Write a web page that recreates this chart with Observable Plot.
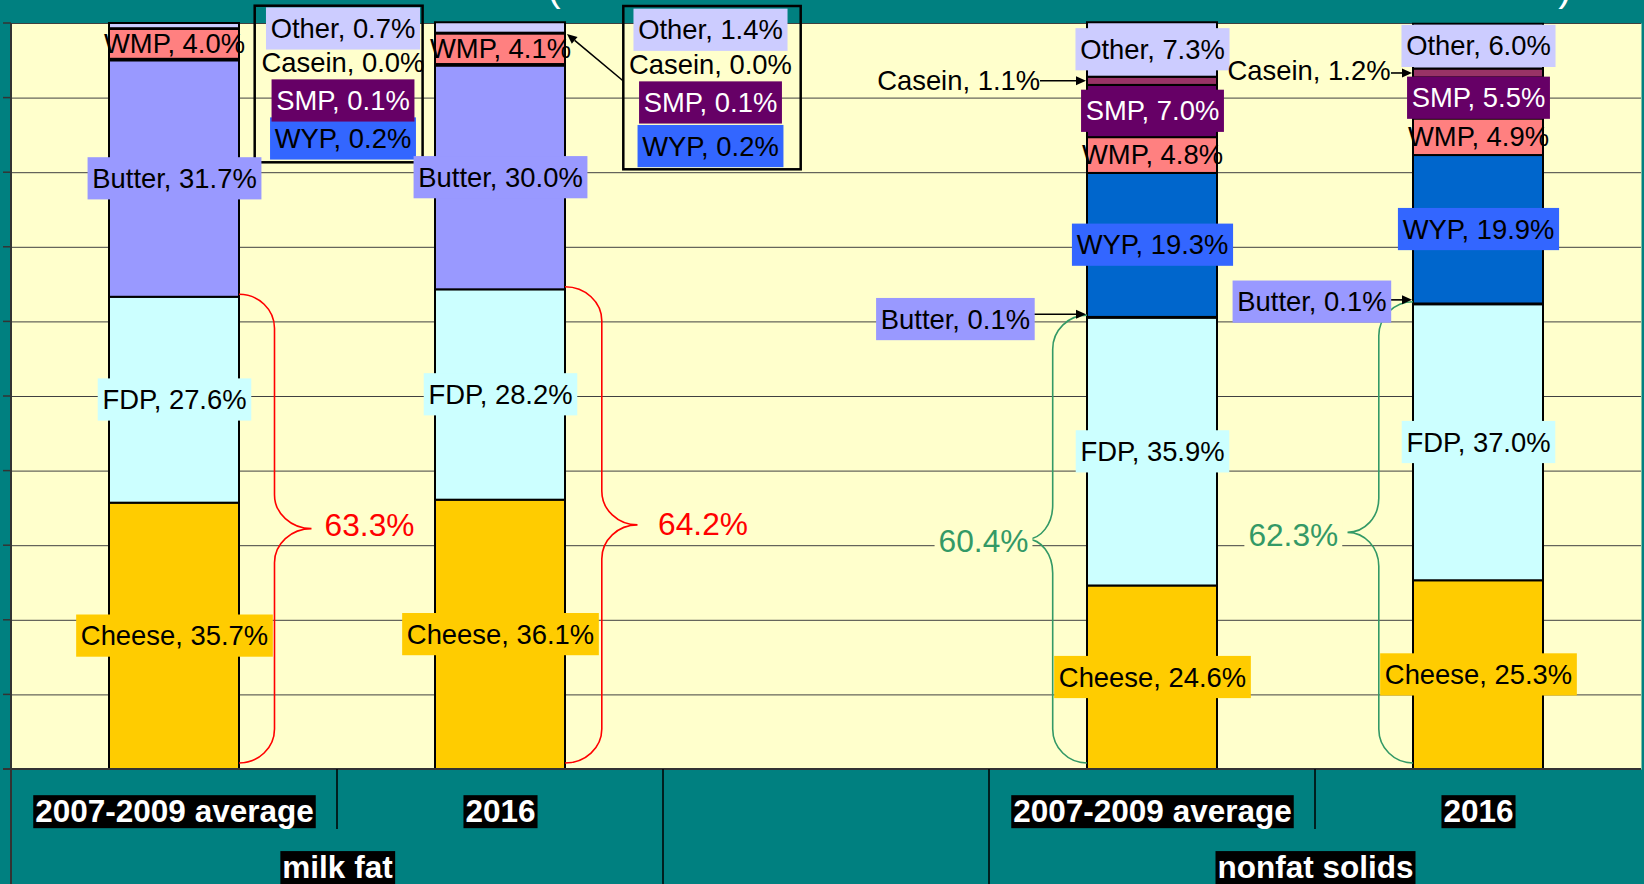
<!DOCTYPE html>
<html>
<head>
<meta charset="utf-8">
<script src="https://cdn.jsdelivr.net/npm/d3@7"></script>
<script src="https://cdn.jsdelivr.net/npm/@observablehq/plot@0.6"></script>
<style>
html, body { margin: 0; padding: 0; background: #008080; overflow: hidden; }
#chart svg { display: block; }
</style>
</head>
<body>
<div id="chart"></div>
<script>
// ---------------- data ----------------
const components = ["Cheese", "FDP", "Butter", "WYP", "WMP", "SMP", "Casein", "Other"];
const groups = ["milk fat", "nonfat solids"];
const periods = ["2007-2009 average", "2016"];
const barKeys = ["mf-avg", "mf-2016", "gap", "nf-avg", "nf-2016"];
const milkFatAvg  = [35.7, 27.6, 31.7, 0.2, 4.0, 0.1, 0.0, 0.7];
const milkFat2016 = [36.1, 28.2, 30.0, 0.2, 4.1, 0.1, 0.0, 1.4];
const nonfatAvg   = [24.6, 35.9, 0.1, 19.3, 4.8, 7.0, 1.1, 7.3];
const nonfat2016  = [25.3, 37.0, 0.1, 19.9, 4.9, 5.5, 1.2, 6.0];
const braceTotals = [63.3, 64.2, 60.4, 62.3];
const yTicks = [0, 10, 20, 30, 40, 50, 60, 70, 80, 90, 100];
const titleFragments = ["(", ")"];

const bars = [
  {key: barKeys[0], group: groups[0], period: periods[0], values: milkFatAvg,  brace: braceTotals[0]},
  {key: barKeys[1], group: groups[0], period: periods[1], values: milkFat2016, brace: braceTotals[1]},
  {key: barKeys[3], group: groups[1], period: periods[0], values: nonfatAvg,   brace: braceTotals[2]},
  {key: barKeys[4], group: groups[1], period: periods[1], values: nonfat2016,  brace: braceTotals[3]}
];

// ---------------- styles / layout ----------------
const FONT = "Liberation Sans, Arial, sans-serif";
const W = 1644, H = 884, ML = 11, MR = 3, MT = 23, MB = 115;
const STEP = (W - ML - MR) / barKeys.length;
const FILL = {Cheese: "#FFCC00", FDP: "#CCFFFF", Butter: "#9999FF", WYP: "#0066CC",
              WMP: "#FF8080", SMP: "#660066", Casein: "#993366", Other: "#CCCCFF"};
const LABEL_BG = {Cheese: "#FFCC00", FDP: "#CCFFFF", Butter: "#9999FF", WYP: "#3366FF",
                  WMP: null, SMP: "#660066", Casein: null, Other: "#CCCCFF"};
const LABEL_FG = {SMP: "white"};
const RED = "#FF0000", GREEN = "#339966";

const LAYOUT = {
  "mf-avg": {
    callout: {box: [15.7, 183.6, -17.3, 139.3], dx: 168.5,
              rows: {Other: 5.7, Casein: 39.7, SMP: 77.7, WYP: 115.7}},
    brace: {side: 1, color: RED, spine: 35.5, tip: 72.5, labelDx: 195, labelDy: -7.9, labelAnchor: "middle"}
  },
  "mf-2016": {
    callout: {box: [58.3, 235.7, -17, 146.3], dx: 210,
              rows: {Other: 7, Casein: 42, SMP: 79.7, WYP: 123.3},
              arrow: [58.3, 58, 2, 11]},
    brace: {side: 1, color: RED, spine: 36.8, tip: 72.5, labelDx: 202.5, labelDy: -5.2, labelAnchor: "middle"}
  },
  "nf-avg": {
    side: {Casein: {dx: -112.4, dy: 0, arrow: [-47, -1, 0]},
           Butter: {dx: -122.5, dy: 2, arrow: [-53, -1, -3]}},
    brace: {side: -1, color: GREEN, spine: 34.3, tip: 60, labelDx: -169, labelDy: -1.7, labelAnchor: "middle"}
  },
  "nf-2016": {
    side: {Casein: {dx: -88, dy: -2, arrow: [-22, -1, 0]},
           Butter: {dx: -92, dy: -2, arrow: [-22, -1, -4]}},
    brace: {side: -1, color: GREEN, spine: 34.2, tip: 65.5, labelDx: -185.2, labelDy: -1.5, labelAnchor: "middle"}
  }
};

// ---------------- derived tables ----------------
const yTop = yTicks[yTicks.length - 1];
const segments = [];
const labels = [];
const bgMap = new Map();
for (const b of bars) {
  const L = LAYOUT[b.key];
  let acc = 0;
  components.forEach((c, i) => {
    const v = b.values[i];
    const lo = acc, hi = acc + v;
    acc = hi;
    segments.push({key: b.key, comp: c, lo, hi, fill: FILL[c]});
    const text = `${c}, ${v.toFixed(1)}%`;
    const base = {key: b.key, text, fg: LABEL_FG[c] || "black"};
    if (LABEL_BG[c]) bgMap.set(text, {fill: LABEL_BG[c], px: 4.7, pt: 5.6, pb: 5.6});
    if (L.callout && L.callout.rows[c] != null) {
      labels.push({...base, y: yTop, dx: L.callout.dx, dy: L.callout.rows[c], anchor: "middle"});
    } else if (L.side && L.side[c]) {
      labels.push({...base, y: (lo + hi) / 2, dx: L.side[c].dx, dy: L.side[c].dy, anchor: "end"});
    } else {
      labels.push({...base, y: (lo + hi) / 2, dx: 0, dy: 0, anchor: "middle"});
    }
  });
  if (LAYOUT[b.key].brace.color === GREEN) {
    bgMap.set(`${b.brace.toFixed(1)}%`, {fill: "#FFFFCC", px: 4, pt: 0, pb: -2});
  }
}
for (const p of periods) bgMap.set(p, {fill: "black", px: 2, pt: -2, pb: -1});
for (const g of groups) bgMap.set(g, {fill: "black", px: 2, pt: -2, pb: -1});

// ---------------- custom annotation layer (uses Plot's scales) ----------------
function annotate(index, scales, values, dims) {
  const x = scales.x, y = scales.y;
  const bw = x.bandwidth(), step = x.step();
  const g = d3.create("svg:g");
  const y0 = y(yTicks[0]);
  const ml = dims.marginLeft, right = dims.width - dims.marginRight;

  // y ticks left of axis
  for (const t of yTicks) {
    g.append("line").attr("x1", ml - 8).attr("x2", ml).attr("y1", y(t)).attr("y2", y(t))
      .attr("stroke", "#333").attr("stroke-width", 1.5);
  }
  // left axis (continues to bottom)
  g.append("line").attr("x1", ml).attr("x2", ml).attr("y1", y(yTop)).attr("y2", dims.height)
    .attr("stroke", "#333").attr("stroke-width", 2);
  // bottom axis
  g.append("line").attr("x1", ml - 8).attr("x2", right).attr("y1", y0).attr("y2", y0)
    .attr("stroke", "#333").attr("stroke-width", 2);
  // category separators
  const grpOf = k => k.slice(0, 2);
  barKeys.forEach((k, i) => {
    if (i === 0) return;
    const bx = x(k) - (step - bw) / 2;
    const full = grpOf(k) !== grpOf(barKeys[i - 1]);
    g.append("line").attr("x1", bx).attr("x2", bx).attr("y1", y0)
      .attr("y2", full ? dims.height : y0 + 60)
      .attr("stroke", "black").attr("stroke-width", 1.5);
  });

  // braces
  for (const b of bars) {
    const B = LAYOUT[b.key].brace;
    const top = b.values[0] + b.values[1];
    const s = B.side;
    const x0 = s > 0 ? x(b.key) + bw : x(b.key);
    const x1 = x0 + s * B.spine, x2 = x0 + s * B.tip;
    const yT = y(top) - 2.5, yB = y0 - 6, yM = (yT + yB) / 2;
    const ry = 34, rx = B.spine, rx2 = B.tip - B.spine;
    const s1 = s > 0 ? 1 : 0, s2 = s > 0 ? 0 : 1;
    const d = `M${x0},${yT}A${rx},${ry} 0 0 ${s1} ${x1},${yT + ry}L${x1},${yM - ry}` +
              `A${rx2},${ry} 0 0 ${s2} ${x2},${yM}A${rx2},${ry} 0 0 ${s2} ${x1},${yM + ry}` +
              `L${x1},${yB - ry}A${rx},${ry} 0 0 ${s1} ${x0},${yB}`;
    g.append("path").attr("d", d).attr("fill", "none").attr("stroke", B.color).attr("stroke-width", 1.6);
  }

  function arrow(xa, ya, xb, yb) {
    const Lh = 10, Wh = 4.5;
    const dx = xb - xa, dy = yb - ya, len = Math.hypot(dx, dy), ux = dx / len, uy = dy / len;
    const hx = xb - ux * Lh, hy = yb - uy * Lh;
    g.append("line").attr("x1", xa).attr("y1", ya).attr("x2", hx).attr("y2", hy)
      .attr("stroke", "black").attr("stroke-width", 1.6);
    g.append("path").attr("d", `M${xb},${yb}L${hx - uy * Wh},${hy + ux * Wh}L${hx + uy * Wh},${hy - ux * Wh}Z`)
      .attr("fill", "black");
  }

  // callout boxes + side arrows
  for (const b of bars) {
    const L = LAYOUT[b.key];
    const left = x(b.key), rgt = x(b.key) + bw;
    if (L.callout) {
      const [a, c, t, u] = L.callout.box;
      g.append("rect").attr("x", rgt + a).attr("y", y(yTop) + t).attr("width", c - a).attr("height", u - t)
        .attr("fill", "none").attr("stroke", "black").attr("stroke-width", 2.5);
      if (L.callout.arrow) {
        const [ax, ay, bx2, by2] = L.callout.arrow;
        arrow(rgt + ax, y(yTop) + ay, rgt + bx2, y(yTop) + by2);
      }
    }
    if (L.side) {
      let acc = 0;
      components.forEach((c, i) => {
        const lo = acc, hi = acc + b.values[i];
        acc = hi;
        const S = L.side[c];
        if (!S) return;
        const ym = y((lo + hi) / 2) + S.arrow[2];
        arrow(left + S.arrow[0], ym, left + S.arrow[1], ym);
      });
    }
  }

  // cut-off title fragments
  const fragX = [554, 1565];
  titleFragments.forEach((t, i) => {
    g.append("text").attr("x", fragX[i]).attr("y", 0.5).attr("fill", "white")
      .attr("font-family", FONT).attr("font-size", 40).text(t);
  });
  return g.node();
}

// ---------------- marks ----------------
const labelMarks = labels.map(d => Plot.text([d], {
  x: "key", y: "y", text: "text", dx: d.dx, dy: d.dy, textAnchor: d.anchor,
  fill: d.fg, fontSize: 27.4, fontFamily: FONT
}));
const braceLabelMarks = bars.map(b => {
  const B = LAYOUT[b.key].brace;
  return Plot.text([b], {
    x: "key", y: d => (d.values[0] + d.values[1]) / 2, text: d => `${d.brace.toFixed(1)}%`,
    dx: B.labelDx, dy: B.labelDy, textAnchor: B.labelAnchor,
    fill: B.color, fontSize: 31.7, fontFamily: FONT
  });
});
const periodMarks = Plot.text(bars, {
  x: "key", y: () => yTicks[0], text: "period", dy: 42.6,
  fill: "white", fontWeight: "bold", fontSize: 31.5, fontFamily: FONT
});
const groupMarks = Plot.text(bars.filter((b, i) => i % 2 === 0), {
  x: "key", y: () => yTicks[0], text: "group", dy: 98.5, dx: STEP / 2,
  fill: "white", fontWeight: "bold", fontSize: 31.5, fontFamily: FONT
});

const chart = Plot.plot({
  width: W, height: H,
  marginLeft: ML, marginRight: MR, marginTop: MT, marginBottom: MB,
  style: {background: "transparent", overflow: "visible", maxWidth: "none"},
  x: {type: "band", domain: barKeys, paddingInner: 0.6, paddingOuter: 0.3, align: 0.5, axis: null},
  y: {domain: [yTicks[0], yTop], axis: null},
  color: {type: "identity"},
  marks: [
    Plot.frame({fill: "#FFFFCC", stroke: "none"}),
    Plot.ruleY(yTicks.slice(1), {stroke: "#404040", strokeWidth: 1}),
    Plot.barY(segments, {x: "key", y1: "lo", y2: "hi", fill: "fill", stroke: "black", strokeWidth: 2}),
    annotate,
    ...labelMarks,
    ...braceLabelMarks,
    periodMarks,
    groupMarks
  ]
});
document.getElementById("chart").append(chart);

// background boxes behind labels
const svgNS = "http://www.w3.org/2000/svg";
chart.querySelectorAll("text").forEach(t => {
  const s = bgMap.get(t.textContent);
  if (!s) return;
  const bb = t.getBBox();
  const r = document.createElementNS(svgNS, "rect");
  r.setAttribute("x", bb.x - s.px);
  r.setAttribute("y", bb.y - s.pt);
  r.setAttribute("width", bb.width + 2 * s.px);
  r.setAttribute("height", bb.height + s.pt + s.pb);
  r.setAttribute("fill", s.fill);
  r.setAttribute("stroke", "none");
  const tr = t.getAttribute("transform");
  if (tr) r.setAttribute("transform", tr);
  t.parentNode.insertBefore(r, t);
});
</script>
</body>
</html>
